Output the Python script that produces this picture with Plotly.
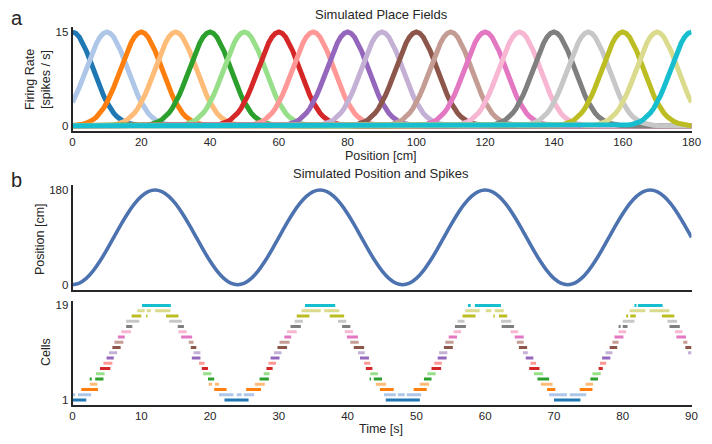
import numpy as np
import plotly.graph_objects as go

# ---------------- data ----------------
# place-field centres [cm] for the 19 cells
field_centers = [0, 10, 20, 30, 40, 50, 60, 70, 80, 90, 100, 110, 120, 130, 140, 150, 160, 170, 180]
# firing-rate profile [spikes/s], by distance from the centre (0..20 cm)
field_profile = [15.0, 14.79, 14.19, 13.24, 12.01, 10.60, 9.10, 7.59, 6.17, 4.87, 3.74,
                 2.79, 2.03, 1.43, 0.99, 0.66, 0.43, 0.27, 0.17, 0.10, 0.06]
position_grid = list(range(0, 181))

# animal position [cm] sampled every second, 0..90 s
time_s = list(range(0, 91))
position_cm = [
    0.0, 3.1, 12.1, 26.4, 45.0, 66.7, 90.0, 113.3, 135.0, 153.6, 167.9, 176.9,
    180.0, 176.9, 167.9, 153.6, 135.0, 113.3, 90.0, 66.7, 45.0, 26.4, 12.1, 3.1,
    0.0, 3.1, 12.1, 26.4, 45.0, 66.7, 90.0, 113.3, 135.0, 153.6, 167.9, 176.9,
    180.0, 176.9, 167.9, 153.6, 135.0, 113.3, 90.0, 66.7, 45.0, 26.4, 12.1, 3.1,
    0.0, 3.1, 12.1, 26.4, 45.0, 66.7, 90.0, 113.3, 135.0, 153.6, 167.9, 176.9,
    180.0, 176.9, 167.9, 153.6, 135.0, 113.3, 90.0, 66.7, 45.0, 26.4, 12.1, 3.1,
    0.0, 3.1, 12.1, 26.4, 45.0, 66.7, 90.0, 113.3, 135.0, 153.6, 167.9, 176.9,
    180.0, 176.9, 167.9, 153.6, 135.0, 113.3, 90.0,
]

# spike bursts per cell (cell 1..19): [start, end] in seconds
bursts = [
    [[0.0, 2.0], [22.1, 25.6], [45.55, 50.5], [70.0, 73.85]],
    [[0.0, 0.4], [0.8, 2.7], [21.3, 23.4], [23.9, 24.6], [24.9, 26.4], [45.3, 47.0], [47.3, 48.3],
     [48.6, 50.7], [69.3, 71.9], [72.3, 74.7]],
    [[1.27, 3.7], [20.6, 22.4], [25.25, 27.4], [44.7, 46.7], [49.6, 51.5], [69.0, 70.2], [73.75, 75.6]],
    [[2.53, 3.6], [19.8, 20.3], [20.7, 21.3], [26.5, 27.96], [44.1, 45.6], [50.5, 51.85], [68.1, 69.8],
     [74.6, 75.7]],
    [[2.5, 2.8], [3.3, 4.5], [19.7, 20.6], [27.2, 28.55], [43.2, 43.4], [43.8, 45.0], [51.1, 52.2],
     [67.6, 69.3], [75.3, 76.4]],
    [[3.4, 4.66], [19.0, 20.2], [27.8, 28.65], [43.3, 44.4], [51.6, 52.8], [67.1, 68.4], [75.6, 76.8]],
    [[4.0, 5.5], [18.8, 19.7], [28.2, 29.1], [42.65, 43.6], [52.2, 53.6], [66.4, 67.9], [76.5, 77.1]],
    [[4.5, 5.8], [18.4, 19.2], [28.5, 29.6], [42.4, 43.3], [52.6, 53.7], [66.6, 67.4], [76.7, 77.6]],
    [[4.95, 6.0], [17.35, 18.6], [28.8, 30.1], [41.8, 43.1], [53.1, 54.4], [65.9, 67.0], [77.0, 78.2]],
    [[5.3, 6.5], [17.6, 18.6], [29.3, 30.4], [41.5, 42.5], [53.3, 54.5], [65.5, 66.2], [77.5, 78.5],
     [89.5, 90.0]],
    [[5.8, 7.0], [17.2, 18.0], [29.8, 31.2], [40.9, 42.4], [54.0, 55.3], [64.9, 66.1], [78.1, 79.2],
     [89.1, 90.0]],
    [[6.1, 7.4], [16.9, 17.6], [30.1, 31.55], [40.4, 41.6], [54.2, 55.4], [64.6, 65.6], [78.5, 79.4],
     [88.8, 89.4]],
    [[6.6, 7.6], [15.8, 17.4], [30.8, 31.8], [39.9, 41.5], [54.7, 55.9], [64.3, 65.6], [78.8, 80.1],
     [87.8, 89.2]],
    [[7.1, 8.5], [15.4, 16.6], [31.2, 32.6], [39.6, 40.8], [55.4, 56.5], [63.7, 64.8], [79.4, 80.5],
     [87.6, 88.7]],
    [[7.8, 8.7], [15.3, 16.2], [31.7, 33.2], [39.2, 40.4], [55.6, 57.2], [62.4, 64.2], [79.4, 79.7],
     [80.0, 80.7], [86.8, 88.3]],
    [[7.8, 9.7], [14.06, 15.9], [32.3, 33.5], [38.6, 39.8], [56.0, 57.0], [62.3, 63.8], [80.0, 81.7],
     [86.5, 87.9]],
    [[8.6, 10.0], [10.7, 10.9], [13.6, 15.4], [32.6, 34.45], [37.4, 39.5], [56.7, 58.6], [61.2, 61.4],
     [62.0, 63.2], [80.5, 80.8], [81.1, 81.9], [85.7, 87.5]],
    [[9.4, 10.5], [10.8, 11.4], [12.0, 14.25], [33.3, 36.1], [36.6, 38.8], [57.1, 59.2], [60.1, 60.9],
     [61.4, 62.7], [81.0, 83.3], [83.9, 86.8]],
    [[10.1, 14.3], [33.8, 38.2], [57.5, 57.9], [58.5, 62.3], [81.7, 82.0], [82.2, 85.8]],
]

pos_xticks = [0, 20, 40, 60, 80, 100, 120, 140, 160, 180]
time_xticks = [0, 10, 20, 30, 40, 50, 60, 70, 80, 90]

# ---------------- styling ----------------
tab20 = ["#1f77b4", "#aec7e8", "#ff7f0e", "#ffbb78", "#2ca02c", "#98df8a", "#d62728", "#ff9896",
         "#9467bd", "#c5b0d5", "#8c564b", "#c49c94", "#e377c2", "#f7b6d2", "#7f7f7f", "#c7c7c7",
         "#bcbd22", "#dbdb8d", "#17becf"]
FONT = "Liberation Sans, Arial, sans-serif"
TXT = "#262626"
W, H = 712, 444


def px_x(x):
    return x / W


def px_y(y):
    return 1 - y / H


fig = go.Figure()

# panel a: place fields
for i, c in enumerate(field_centers):
    rates = []
    for x in position_grid:
        d = abs(x - c)
        rates.append(field_profile[d] if d < len(field_profile) else 0.0)
    fig.add_trace(go.Scatter(x=position_grid, y=rates, mode="lines",
                             line=dict(color=tab20[i], width=5),
                             xaxis="x", yaxis="y", showlegend=False))

# panel b top: position
fig.add_trace(go.Scatter(x=time_s, y=position_cm, mode="lines",
                         line=dict(color="#4c72b0", width=3.6, shape="spline"),
                         xaxis="x2", yaxis="y2", showlegend=False))

# panel b bottom: spikes
for i, cell_bursts in enumerate(bursts):
    xs, ys = [], []
    for s, e in cell_bursts:
        xs += [s, e, None]
        ys += [i + 1, i + 1, None]
    fig.add_trace(go.Scatter(x=xs, y=ys, mode="lines",
                             line=dict(color=tab20[i], width=3),
                             xaxis="x3", yaxis="y3", showlegend=False))

xdom = [px_x(72.5), px_x(691.5)]
axis_common = dict(showline=True, linecolor="#262626", linewidth=1.6, ticks="",
                   showgrid=False, zeroline=False, automargin=False,
                   tickfont=dict(family=FONT, size=11.5, color=TXT))

fig.update_layout(
    width=W, height=H,
    margin=dict(l=0, r=0, t=0, b=0),
    paper_bgcolor="white", plot_bgcolor="white",
    font=dict(family=FONT, color=TXT),
    xaxis=dict(domain=xdom, range=[0, 180], tickvals=pos_xticks, anchor="y", **axis_common),
    yaxis=dict(domain=[px_y(130.5), px_y(27.3)], range=[-0.75, 15.75], tickvals=[0, 15],
               anchor="x", **axis_common),
    xaxis2=dict(domain=xdom, range=[0, 90], tickvals=time_xticks, showticklabels=False,
                anchor="y2", **axis_common),
    yaxis2=dict(domain=[px_y(289.5), px_y(185.3)], range=[-9, 189], tickvals=[0, 180],
                anchor="x2", **axis_common),
    xaxis3=dict(domain=xdom, range=[0, 90], tickvals=time_xticks, anchor="y3", **axis_common),
    yaxis3=dict(domain=[px_y(404.7), px_y(300.7)], range=[0.1, 19.9], tickvals=[1, 19],
                anchor="x3", **axis_common),
)

ann = [
    dict(text="a", x=px_x(17), y=px_y(18), size=20),
    dict(text="b", x=px_x(16), y=px_y(180), size=20),
    dict(text="Simulated Place Fields", x=px_x(381), y=px_y(15), size=13),
    dict(text="Simulated Position and Spikes", x=px_x(381), y=px_y(173), size=13),
    dict(text="Position [cm]", x=px_x(381), y=px_y(156), size=12.5),
    dict(text="Time [s]", x=px_x(381), y=px_y(428.5), size=12.5),
    dict(text="Firing Rate<br>[spikes / s]", x=px_x(38), y=px_y(80), size=12.5, angle=-90),
    dict(text="Position [cm]", x=px_x(40), y=px_y(239), size=12.5, angle=-90),
    dict(text="Cells", x=px_x(46), y=px_y(352), size=12.5, angle=-90),
]
for a in ann:
    fig.add_annotation(text=a["text"], x=a["x"], y=a["y"], xref="paper", yref="paper",
                       showarrow=False, xanchor="center", yanchor="middle",
                       textangle=a.get("angle", 0),
                       font=dict(family=FONT, size=a["size"], color=TXT))

fig.write_html("out.html")
